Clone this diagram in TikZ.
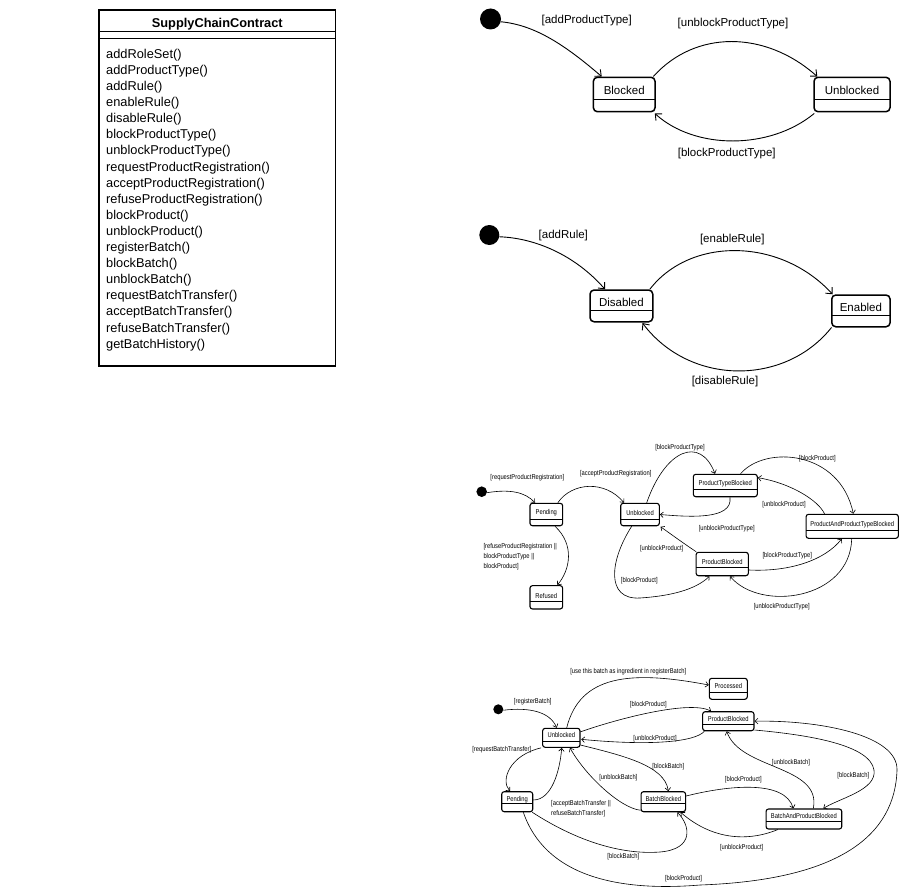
\documentclass[tikz,border=0pt]{standalone}
\usepackage{fontspec}
\setmainfont{Liberation Sans}
\newfontfamily\lnarrow[FakeStretch=0.83]{Liberation Sans}
\usetikzlibrary{arrows.meta,calc}
\begin{document}
\begin{tikzpicture}[x=1pt,y=-1pt,
  tstate/.style={draw,line width=1.5pt,rounded corners=4pt,inner sep=0pt},
  sstate/.style={draw,line width=1.1pt,rounded corners=2.5pt,inner sep=0pt},
  tdiv/.style={path picture={\draw[line width=1pt] ([yshift=#1]path picture bounding box.south west) -- ([yshift=#1]path picture bounding box.south east);}},
  sdiv/.style={path picture={\draw[line width=0.7pt] ([yshift=#1]path picture bounding box.south west) -- ([yshift=#1]path picture bounding box.south east);}},
  tname/.style={font=\fontsize{11.5}{13}\selectfont},
  sname/.style={font=\lnarrow\fontsize{7}{9}\selectfont},
  tlbl/.style={font=\fontsize{11.5}{13}\selectfont,inner sep=0pt},
  slbl/.style={font=\lnarrow\fontsize{7}{9.7}\selectfont,inner sep=0pt,align=left},
  tedge/.style={line width=0.9pt,-{Straight Barb[length=5pt,width=9pt]}},
  sedge/.style={line width=0.6pt,-{Straight Barb[length=3pt,width=5.5pt]}},
  startdot/.style={circle,fill=black,inner sep=0pt,minimum size=#1},
  method/.style={anchor=base west,inner sep=0pt,font=\fontsize{12.8}{15}\selectfont}
]
\path[use as bounding box,fill=white] (0,0) rectangle (901,888);

% ---------------- class box ----------------
\node[draw,line width=1.4pt,minimum width=236.7pt,minimum height=356pt,inner sep=0pt] (cls) at (217.3,188) {};
\node[font=\bfseries\fontsize{12.8}{15}\selectfont,anchor=base,inner sep=0pt] (clst) at (217.3,27.7) {SupplyChainContract};
\draw[line width=1pt] ($(cls.north west)+(0,22.5)$) -- ($(cls.north east)+(0,22.5)$);
\draw[line width=1pt] ($(cls.north west)+(0,29.5)$) -- ($(cls.north east)+(0,29.5)$);
\foreach \m [count=\i] in {addRoleSet(),addProductType(),addRule(),enableRule(),disableRule(),blockProductType(),unblockProductType(),requestProductRegistration(),acceptProductRegistration(),refuseProductRegistration(),blockProduct(),unblockProduct(),registerBatch(),blockBatch(),unblockBatch(),requestBatchTransfer(),acceptBatchTransfer(),refuseBatchTransfer(),getBatchHistory()}
  \node[method] (m\i) at (106,{58.3+16.1*(\i-1)}) {\m};

% ---------------- diagram 1 ----------------
\node[startdot=21pt] (i1) at (490.5,19) {};
\node[tstate,tdiv=12.4pt,minimum width=61.7pt,minimum height=34.4pt,label={[tname,yshift=3.8pt]center:Blocked}] (b1) at (624.2,94.5) {};
\node[tstate,tdiv=12.4pt,minimum width=76pt,minimum height=34.4pt,label={[tname,yshift=3.8pt]center:Unblocked}] (u1) at (852,94.5) {};
\draw[tedge] (i1.-15) .. controls (535,25) and (565,45) .. ($(b1.north)+(-22.5,0)$);
\draw[tedge] ($(b1.north east)+(-2.5,0)$) .. controls (695,30) and (765,30) .. ($(u1.north west)+(4,0)$);
\draw[tedge] ($(u1.south west)+(1,1)$) .. controls (770,150) and (695,150) .. ($(b1.south east)+(-1,1)$);
\node[tlbl] (l11) at (586.7,20.7) {[addProductType]};
\node[tlbl] (l12) at (733,24) {[unblockProductType]};
\node[tlbl] (l13) at (726.7,154) {[blockProductType]};

% ---------------- diagram 2 ----------------
\node[startdot=20pt] (i2) at (489.3,235) {};
\node[tstate,tdiv=11.7pt,minimum width=62.7pt,minimum height=31.7pt,label={[tname,yshift=3.6pt]center:Disabled}] (d2) at (621.4,305.9) {};
\node[tstate,tdiv=11.4pt,minimum width=58.3pt,minimum height=31.7pt,label={[tname,yshift=3.8pt]center:Enabled}] (e2) at (860.9,310.9) {};
\draw[tedge] (i2.-10) .. controls (535,238) and (575,255) .. ($(d2.north)+(-16.4,0)$);
\draw[tedge] ($(d2.north east)+(-3.7,0)$) .. controls (690,237) and (780,237) .. ($(e2.north west)+(1.6,0)$);
\draw[tedge] ($(e2.south west)+(0.5,0)$) .. controls (785,386) and (690,386) .. ($(d2.south east)+(-11,0.6)$);
\node[tlbl] (l21) at (563.3,236) {[addRule]};
\node[tlbl] (l22) at (732.3,239.3) {[enableRule]};
\node[tlbl] (l23) at (725,382) {[disableRule]};

% ---------------- diagram 3 ----------------
\node[startdot=10.6pt] (i3) at (481.7,491.7) {};
\node[sstate,sdiv=6.7pt,minimum width=32.7pt,minimum height=22.4pt,label={[sname,yshift=1.5pt]center:Pending}] (p3) at (546.3,514.5) {};
\node[sstate,sdiv=7.3pt,minimum width=32.7pt,minimum height=23.3pt,label={[sname,yshift=1.8pt]center:Refused}] (r3) at (546.3,597.3) {};
\node[sstate,sdiv=6.7pt,minimum width=38.6pt,minimum height=22.4pt,label={[sname,yshift=1.2pt]center:Unblocked}] (u3) at (640,514.5) {};
\node[sstate,sdiv=7.4pt,minimum width=64pt,minimum height=22.4pt,label={[sname,yshift=2pt]center:ProductTypeBlocked}] (ptb) at (725.3,485.5) {};
\node[sstate,sdiv=8.3pt,minimum width=92.3pt,minimum height=24pt,label={[sname,yshift=1.8pt]center:ProductAndProductTypeBlocked}] (paptb) at (852.2,526.3) {};
\node[sstate,sdiv=8pt,minimum width=52.3pt,minimum height=23.4pt,label={[sname,yshift=2pt]center:ProductBlocked}] (pb3) at (722.2,564) {};

\draw[sedge] (i3.-10) .. controls (510,489) and (525,492) .. ($(p3.north)+(-11.3,0)$);
\draw[sedge] ($(p3.north east)+(-5.4,0)$) .. controls (572,482) and (605,480) .. ($(u3.north)+(-16,0)$);
\draw[sedge] ($(p3.south)+(8.7,0)$) .. controls (575,545) and (570,570) .. ($(r3.north)+(11,0)$);
\draw[sedge] ($(u3.north)+(6.7,0)$) .. controls (665,450) and (700,435) .. ($(ptb.north)+(-10.3,0)$);
\draw[sedge] ($(ptb.south)+(4.7,0)$) .. controls (733,520) and (690,517) .. (u3.east);
\draw[sedge] ($(ptb.north east)+(-17.3,0)$) .. controls (765,445) and (840,450) .. ($(paptb.north)+(1.1,0)$);
\draw[sedge] ($(paptb.north west)+(19,0)$) .. controls (818,500) and (790,483) .. ($(ptb.east)+(0,-7.8)$);
\draw[sedge] ($(u3.south)+(-8.3,0)$) .. controls (610,560) and (605,600) .. (640,598) .. controls (670,596) and (695,590) .. ($(pb3.south west)+(14,0)$);
\draw[sedge] ($(pb3.north west)+(0.7,0)$) .. controls (683,543) and (668,532) .. ($(u3.south east)+(0.7,0.5)$);
\draw[sedge] ($(pb3.east)+(0,6)$) .. controls (790,572) and (825,560) .. ($(paptb.south)+(-10.5,0)$);
\draw[sedge] ($(paptb.south)+(-0.5,0)$) .. controls (850,600) and (760,612) .. ($(pb3.south)+(7.8,0)$);

\node[slbl] (l31) at (527.3,477.7) {[requestProductRegistration]};
\node[slbl] (l32) at (615.7,474) {[acceptProductRegistration]};
\node[slbl,anchor=west] (l33) at (483.3,556.7) {[refuseProductRegistration ||\\blockProductType ||\\blockProduct]};
\node[slbl] (l34) at (639.3,580.7) {[blockProduct]};
\node[slbl] (l35) at (661.7,548.3) {[unblockProduct]};
\node[slbl] (l36) at (680,447.7) {[blockProductType]};
\node[slbl] (l37) at (817.3,459) {[blockProduct]};
\node[slbl] (l38) at (784,505) {[unblockProduct]};
\node[slbl] (l39) at (726.7,528.3) {[unblockProductType]};
\node[slbl] (l310) at (787.3,555.7) {[blockProductType]};
\node[slbl] (l311) at (781.7,606.7) {[unblockProductType]};

% ---------------- diagram 4 ----------------
\node[startdot=10pt] (i4) at (498.3,709.3) {};
\node[sstate,sdiv=6.3pt,minimum width=37.3pt,minimum height=19pt,label={[sname,yshift=2.5pt]center:Unblocked}] (u4) at (561.3,737.8) {};
\node[sstate,sdiv=6.6pt,minimum width=38pt,minimum height=21pt,label={[sname,yshift=2.8pt]center:Processed}] (pr4) at (728.3,688.8) {};
\node[sstate,sdiv=6.5pt,minimum width=51.3pt,minimum height=19pt,label={[sname,yshift=2pt]center:ProductBlocked}] (pb4) at (728.3,721.2) {};
\node[sstate,sdiv=8pt,minimum width=31pt,minimum height=20pt,label={[sname,yshift=2.3pt]center:Pending}] (pe4) at (517.2,801.7) {};
\node[sstate,sdiv=8pt,minimum width=44.5pt,minimum height=20pt,label={[sname,yshift=2.5pt]center:BatchBlocked}] (bb4) at (663.3,801.7) {};
\node[sstate,sdiv=7.5pt,minimum width=75.7pt,minimum height=20pt,label={[sname,yshift=2.7pt]center:BatchAndProductBlocked}] (bapb) at (803.9,819) {};

\draw[sedge] (i4.-10) .. controls (530,707) and (550,712) .. ($(u4.north)+(-4.6,0)$);
\draw[sedge] ($(u4.north)+(5.4,0)$) .. controls (580,675) and (630,670) .. ($(pr4.west)+(0,-3.8)$);
\draw[sedge] ($(u4.east)+(0,-6)$) .. controls (620,718) and (690,700) .. ($(pb4.north west)+(9,0)$);
\draw[sedge] ($(pb4.south west)+(2.3,0)$) .. controls (695,742) and (650,746) .. ($(u4.east)+(0.7,1.5)$);
\draw[sedge] ($(u4.south west)+(-1,0)$) .. controls (510,755) and (500,780) .. ($(pe4.north)+(-7.2,0)$);
\draw[sedge] ($(pe4.east)+(0,-1.7)$) .. controls (552,800) and (560,770) .. ($(u4.south)+(0.4,0)$);
\draw[sedge] ($(u4.east)+(0,7.2)$) .. controls (620,755) and (665,765) .. ($(bb4.north)+(5,0)$);
\draw[sedge] ($(bb4.south west)+(0,-2)$) .. controls (620,808) and (585,775) .. ($(u4.south)+(8.7,0)$);
\draw[sedge] ($(bb4.east)+(0,-5.7)$) .. controls (730,785) and (785,780) .. ($(bapb.north)+(-10.6,0)$);
\draw[sedge] ($(bapb.south west)+(12.3,0)$) .. controls (745,843) and (710,838) .. ($(bb4.south east)+(-5.5,0)$);
\draw[sedge] ($(pe4.south east)+(-1,0)$) .. controls (575,840) and (620,855) .. (660,852) .. controls (695,849) and (690,825) .. ($(bb4.south east)+(-8.8,0)$);
\draw[sedge] ($(pe4.south)+(6.1,0)$) .. controls (545,875) and (615,892) .. (700,885) .. controls (840,880) and (895,835) .. (897,770) .. controls (898,735) and (820,720) .. (pb4.east);
\draw[sedge] ($(pb4.east)+(0,8.8)$) .. controls (810,735) and (870,745) .. (874,770) .. controls (877,790) and (840,798) .. ($(bapb.north)+(19.4,0)$);
\draw[sedge] ($(bapb.north)+(9.4,0)$) .. controls (822,765) and (740,770) .. ($(pb4.south)+(-1.6,0)$);

\node[slbl] (l41) at (628.3,671.7) {[use this batch as ingredient in registerBatch]};
\node[slbl] (l42) at (532.7,701.7) {[registerBatch]};
\node[slbl] (l43) at (648.3,705) {[blockProduct]};
\node[slbl] (l44) at (655,739) {[unblockProduct]};
\node[slbl] (l45) at (501.7,749.3) {[requestBatchTransfer]};
\node[slbl] (l46) at (668.3,766.7) {[blockBatch]};
\node[slbl] (l47) at (618.3,777.3) {[unblockBatch]};
\node[slbl] (l48) at (791,762.7) {[unblockBatch]};
\node[slbl] (l49) at (853.3,776) {[blockBatch]};
\node[slbl] (l410) at (743.3,780) {[blockProduct]};
\node[slbl,anchor=west] (l411) at (551,809) {[acceptBatchTransfer ||\\refuseBatchTransfer]};
\node[slbl] (l412) at (623.3,857) {[blockBatch]};
\node[slbl] (l413) at (741.7,847.3) {[unblockProduct]};
\node[slbl] (l414) at (683.5,878.3) {[blockProduct]};
\end{tikzpicture}
\end{document}
